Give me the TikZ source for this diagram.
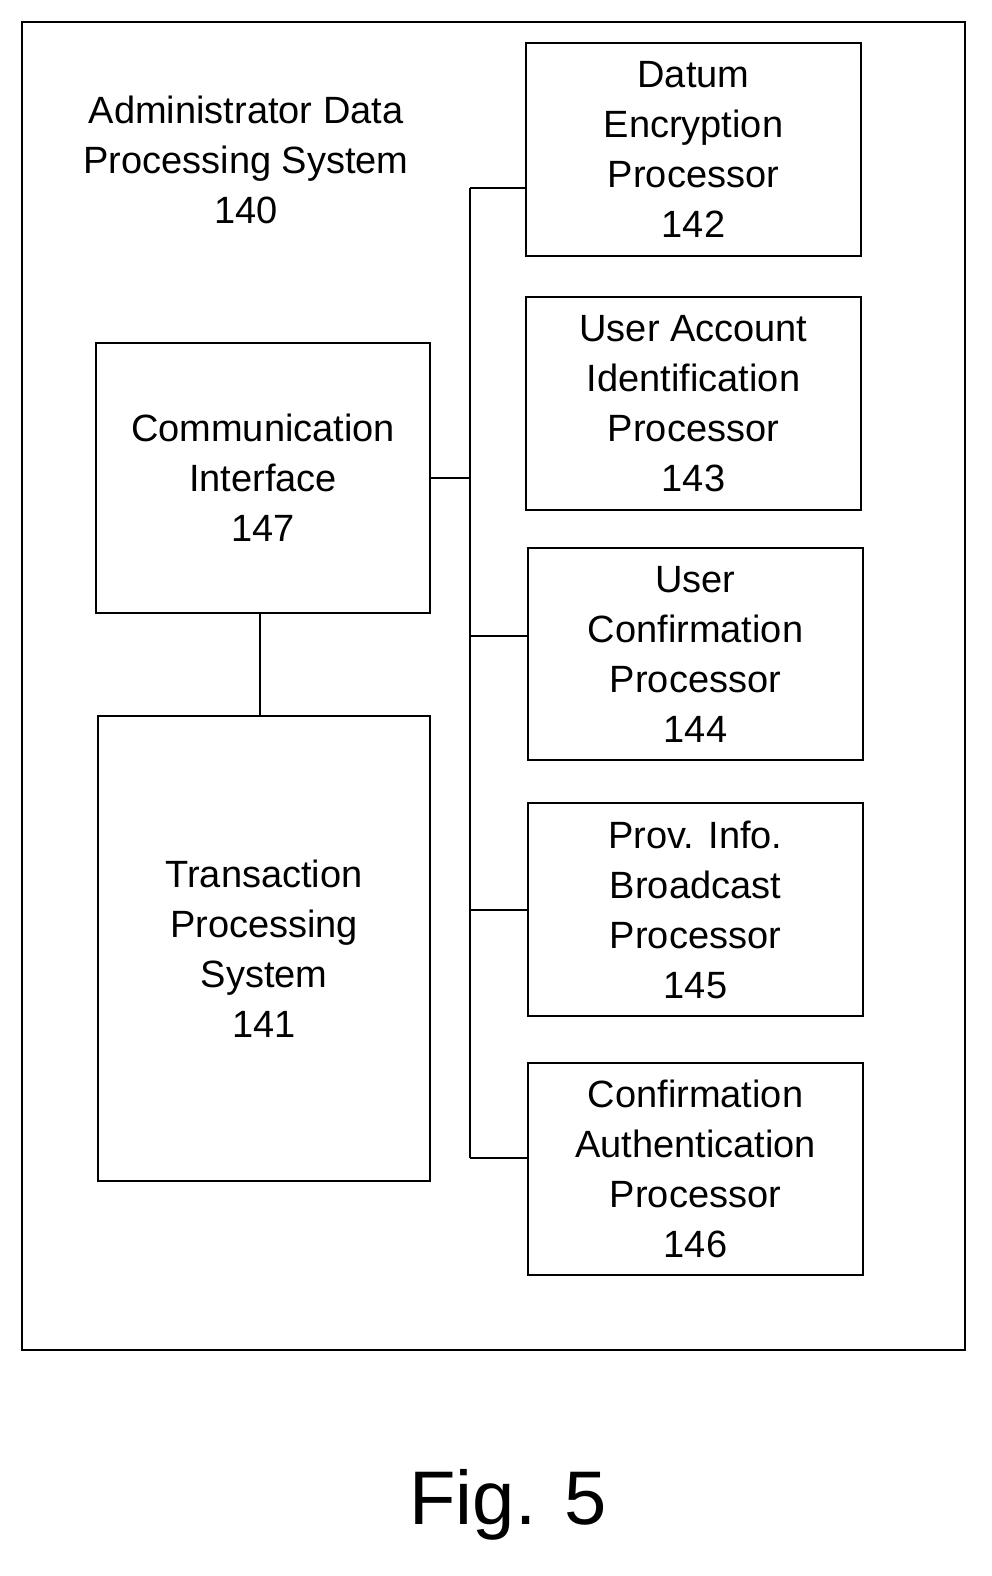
\documentclass[tikz,border=0pt]{standalone}
\usepackage{fontspec}
\setmainfont{Liberation Sans}
\begin{document}
\begin{tikzpicture}[x=1pt,y=-1pt,
  box/.style={draw,line width=1.8pt},
  lbl/.style={align=center,font=\fontsize{38}{50}\selectfont},
  ln/.style={line width=1.8pt}]
\useasboundingbox (0,0) rectangle (991,1576);
\draw[box] (22,22) rectangle (965,1350);
\node[lbl] (title) at (246,160) {Administrator Data\\Processing System\\140};
\node[box,minimum width=335pt,minimum height=213pt] (b142) at (693.5,149.5) {};
\node[lbl] at (b142) {Datum\\Encryption\\Processor\\142};
\node[box,minimum width=335pt,minimum height=213pt] (b143) at (693.5,403.5) {};
\node[lbl] at (b143) {User Account\\Identification\\Processor\\143};
\node[box,minimum width=335pt,minimum height=212pt] (b144) at (695.5,654) {};
\node[lbl] at (b144) {User\\Confirmation\\Processor\\144};
\node[box,minimum width=335pt,minimum height=213pt] (b145) at (695.5,909.5) {};
\node[lbl] at (b145) {Prov. Info.\\Broadcast\\Processor\\145};
\node[box,minimum width=335pt,minimum height=212pt] (b146) at (695.5,1169) {};
\node[lbl] at (b146) {Confirmation\\Authentication\\Processor\\146};
\node[box,minimum width=334pt,minimum height=270pt] (b147) at (263,478) {};
\node[lbl] at (263,478) {Communication\\Interface\\147};
\node[box,minimum width=332pt,minimum height=465pt] (b141) at (264,948.5) {};
\node[lbl] at (264,948.5) {Transaction\\Processing\\System\\141};
\coordinate (top) at (470,188);
\coordinate (bot) at (470,1158);
\draw[ln] (top) -- (bot);
\draw[ln] (top) -- (top -| b142.west);
\draw[ln] (b147.east) -- (b147.east -| top);
\draw[ln] (470,636) -- (470,636 -| b144.west);
\draw[ln] (470,910) -- (470,910 -| b145.west);
\draw[ln] (bot) -- (bot -| b146.west);
\draw[ln] (260,613) -- (260,716);
\node[font=\fontsize{76}{80}\selectfont] (fig) at (508,1505) {Fig. 5};
\end{tikzpicture}
\end{document}
